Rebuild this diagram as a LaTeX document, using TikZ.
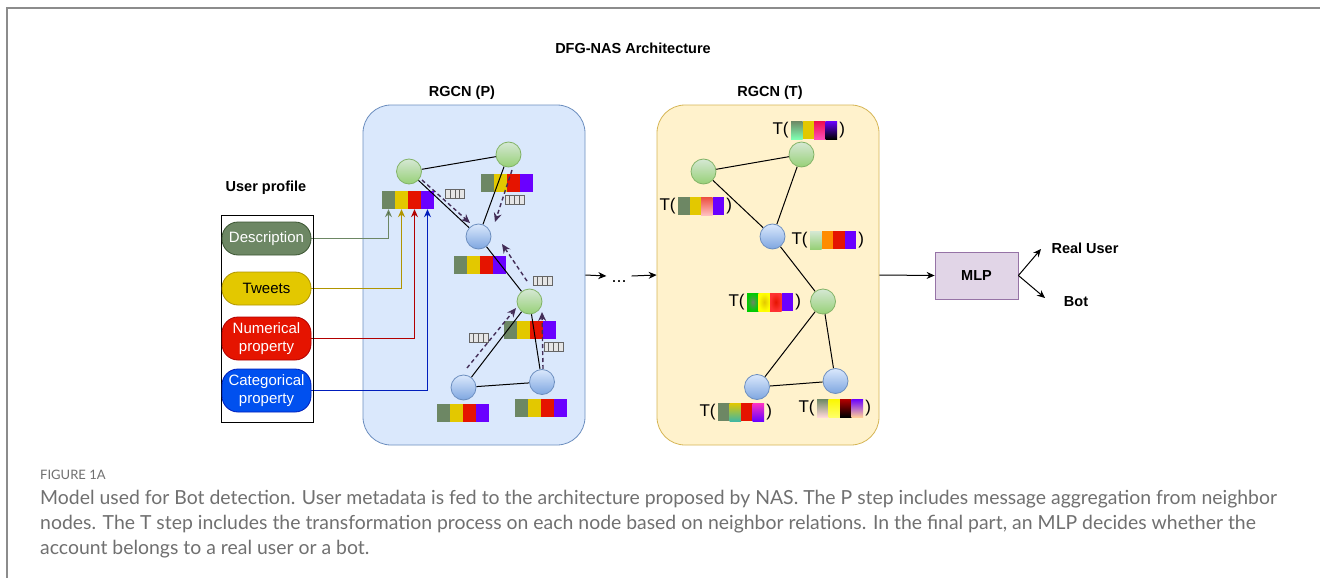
\documentclass[tikz,border=0pt]{standalone}
\usepackage{fontspec}
\setmainfont{Liberation Sans}
\newfontfamily\capfont{Lato}
\usetikzlibrary{arrows.meta}
\definecolor{cg}{HTML}{6D8764}
\definecolor{cgs}{HTML}{3A5431}
\definecolor{cy}{HTML}{E3C800}
\definecolor{cys}{HTML}{B09500}
\definecolor{cr}{HTML}{E51400}
\definecolor{crs}{HTML}{B20000}
\definecolor{cb}{HTML}{0050EF}
\definecolor{cbs}{HTML}{001DBC}
\definecolor{cp}{HTML}{6A00FF}
\definecolor{pfill}{HTML}{DAE8FC}
\definecolor{pdraw}{HTML}{6C8EBF}
\definecolor{tfill}{HTML}{FFF2CC}
\definecolor{tdraw}{HTML}{D6B656}
\definecolor{gtop}{HTML}{D5E8D4}
\definecolor{gbot}{HTML}{97D077}
\definecolor{gdraw}{HTML}{82B366}
\definecolor{btop}{HTML}{DAE8FC}
\definecolor{bbot}{HTML}{7EA6E0}
\definecolor{dpur}{HTML}{432D57}
\definecolor{mfill}{HTML}{E1D5E7}
\definecolor{mdraw}{HTML}{9673A6}
\definecolor{capgray}{HTML}{707070}
\definecolor{framegray}{HTML}{8C8C8C}
\pgfdeclarelayer{back}
\pgfdeclarelayer{bars}
\pgfdeclarelayer{edgel}
\pgfsetlayers{back,bars,edgel,main}
\tikzset{
  lbl/.style={font=\fontsize{14.5}{17.4}\selectfont\bfseries, inner sep=0},
  pill/.style={rounded corners=16pt, minimum width=89pt, inner sep=0, align=center,
    font=\fontsize{15}{18}\selectfont, line width=0.8pt},
  gnode/.style={circle, minimum size=25pt, inner sep=0, draw=gdraw, line width=0.8pt, top color=gtop, bottom color=gbot},
  bnode/.style={circle, minimum size=25pt, inner sep=0, draw=pdraw, line width=0.8pt, top color=btop, bottom color=bbot},
  cell/.style={minimum width=13pt, minimum height=18pt, inner sep=0},
  tcell/.style={minimum width=11.5pt, minimum height=18pt, inner sep=0},
  tlbl/.style={font=\fontsize{17}{20}\selectfont, inner xsep=2pt, inner ysep=0},
  edge/.style={draw=black, line width=1pt},
  dasharr/.style={draw=dpur, line width=1.4pt, dash pattern=on 4pt off 3pt, -{Stealth[length=9pt,width=8pt]}},
  arr/.style={draw=black, line width=1pt, -{Stealth[length=8pt,width=7pt]}},
  feed/.style={line width=1pt, -{Stealth[length=8pt,width=7pt]}},
  msgbox/.style={minimum width=19pt, minimum height=9pt, inner sep=0, draw=gray!80!black, fill=gray!20, line width=0.6pt,
    path picture={\foreach \i in {1,2,3} \draw[gray!75!black, line width=1pt] ([xshift=\i*4.75pt]path picture bounding box.south west) -- ([xshift=\i*4.75pt]path picture bounding box.north west);}},
  capline/.style={anchor=base west, inner sep=0, font=\capfont\fontsize{19.4}{23}\selectfont, text=capgray},
}
\newcommand\fbar[3]{%
  \node[cell, fill=cg] (#1a) at (#2+6.5,#3+9) {};
  \node[cell, fill=cy] (#1b) at (#2+19.5,#3+9) {};
  \node[cell, fill=cr] (#1c) at (#2+32.5,#3+9) {};
  \node[cell, fill=cp] (#1d) at (#2+45.5,#3+9) {};
}
\newcommand\tbar[7]{%
  \node[tcell,#4] (#1a) at (#2+5.75,#3+9) {};
  \node[tcell,#5] (#1b) at (#2+17.25,#3+9) {};
  \node[tcell,#6] (#1c) at (#2+28.75,#3+9) {};
  \node[tcell,#7] (#1d) at (#2+40.25,#3+9) {};
  \node[tlbl,anchor=east] (#1l) at (#1a.west) {T(};
  \node[tlbl,anchor=west] (#1r) at (#1d.east) {)};
}
\begin{document}
\begin{tikzpicture}[x=1pt,y=-1pt]
\useasboundingbox (0,0) rectangle (1320,578);
\begin{pgfonlayer}{back}
\fill[white] (0,0) rectangle (1320,578);
\draw[framegray, line width=2pt] (7,578) -- (7,8) -- (1320,8);
\end{pgfonlayer}

% titles
\node[lbl] (title) at (633,48) {DFG-NAS Architecture};
\node[lbl] (rp) at (462,93) {RGCN (P)};
\node[lbl] (rt) at (770,93) {RGCN (T)};

% panels
\begin{pgfonlayer}{back}
\node[draw=pdraw, fill=pfill, rounded corners=28pt, minimum width=222pt, minimum height=340pt, line width=0.8pt] (pbox) at (474,275) {};
\node[draw=tdraw, fill=tfill, rounded corners=28pt, minimum width=222pt, minimum height=340pt, line width=0.8pt] (tbox) at (768,275) {};
\end{pgfonlayer}

% user profile
\node[lbl] (up) at (266,188) {User profile};
\node[draw=black, line width=1pt, minimum width=92pt, minimum height=207pt, inner sep=0] (uprect) at (267,318.5) {};
\node[pill, fill=cg, draw=cgs, text=white, minimum height=33pt] (desc) at (266.5,238.5) {Description};
\node[pill, fill=cy, draw=cys, text=black, minimum height=33pt] (tweet) at (266.5,288.5) {Tweets};
\node[pill, fill=cr, draw=crs, text=white, minimum height=43pt] (num) at (266.5,338.5) {Numerical\\property};
\node[pill, fill=cb, draw=cbs, text=white, minimum height=43pt] (cat) at (266.5,390.5) {Categorical\\property};

% feature bars in P
\begin{pgfonlayer}{bars}
\fbar{pa}{382}{191}
\fbar{pb}{481}{174}
\fbar{pc}{454}{256}
\fbar{pd}{504}{321}
\fbar{pe}{437}{404}
\fbar{pf}{515}{399}
\node[msgbox] (m1) at (455,193.5) {};
\node[msgbox] (m2) at (514.5,199.5) {};
\node[msgbox] (m3) at (542.5,281) {};
\node[msgbox] (m4) at (478.5,338) {};
\node[msgbox] (m5) at (553.5,347) {};
\end{pgfonlayer}

% P graph nodes
\node[gnode] (A) at (409,171.5) {};
\node[gnode] (B) at (508.5,154.5) {};
\node[bnode] (C) at (478.5,236.5) {};
\node[gnode] (D) at (529.5,301.5) {};
\node[bnode] (E) at (463.5,387.5) {};
\node[bnode] (F) at (542,382) {};

% T graph nodes
\node[gnode] (G1) at (703.5,171.5) {};
\node[gnode] (G2) at (801.5,154.5) {};
\node[bnode] (B1) at (772.5,236.5) {};
\node[gnode] (G3) at (823,301.5) {};
\node[bnode] (B2) at (757,387) {};
\node[bnode] (B3) at (835.5,381) {};

% dashed arrow end points
\coordinate (d1s) at (422,180); \coordinate (d1e) at (470,223);
\coordinate (d2s) at (512,170); \coordinate (d2e) at (495,222);
\coordinate (d3s) at (527,281); \coordinate (d3e) at (502,244);
\coordinate (d4s) at (467,368); \coordinate (d4e) at (516,308);
\coordinate (d5s) at (543,369); \coordinate (d5e) at (542,312);

\begin{pgfonlayer}{edgel}
\draw[edge] (A) -- (B);
\draw[edge] (A) -- (C);
\draw[edge] (B) -- (C);
\draw[edge] (C) -- (D);
\draw[edge] (D) -- (E);
\draw[edge] (D) -- (F);
\draw[edge] (E) -- (F);
\draw[dasharr] (d1s) -- (d1e);
\draw[dasharr] (d2s) -- (d2e);
\draw[dasharr] (d3s) -- (d3e);
\draw[dasharr] (d4s) -- (d4e);
\draw[dasharr] (d5s) -- (d5e);
\draw[edge] (G1) -- (G2);
\draw[edge] (G1) -- (B1);
\draw[edge] (G2) -- (B1);
\draw[edge] (B1) -- (G3);
\draw[edge] (G3) -- (B2);
\draw[edge] (G3) -- (B3);
\draw[edge] (B2) -- (B3);
% feeds
\draw[feed, draw=cg, -{Stealth[length=8pt,width=7pt,fill=cgs]}] (desc.east) -| (paa.south);
\draw[feed, draw=cys] (tweet.east) -| (pab.south);
\draw[feed, draw=crs] (num.east) -| (pac.south);
\draw[feed, draw=cbs] (cat.east) -| (pad.south);
\end{pgfonlayer}

% T labels
\tbar{tg2}{791}{121}{top color=cg, bottom color=green!60!cyan!50}{fill=cy}{top color=cr!70!magenta, bottom color=magenta!60!red!70!white}{top color=cp, bottom color=black}
\tbar{tg1}{678}{197}{fill=cg}{fill=cy}{top color=cr!75!white, bottom color=red!25!white}{fill=cp}
\tbar{tb1}{810}{231}{top color=gtop, bottom color=gbot}{fill=orange!90!yellow}{fill=cr}{fill=cp}
\tbar{tg3}{747}{293}{inner color=cg, outer color=green!80!black}{inner color=cy, outer color=yellow}{inner color=cr, outer color=red!80!white}{fill=cp}
\tbar{tb2}{718}{403}{fill=cg}{top color=cy, bottom color=cg!60!cyan}{fill=cr}{top color=magenta!70!red!80!white, bottom color=cp}
\tbar{tb3}{817}{399}{top color=cg, bottom color=red!15!white}{top color=yellow!85!cy, bottom color=yellow!60!white}{top color=red!70!black, bottom color=black}{top color=cp, bottom color=orange!40!white}

% flow
\node[font=\fontsize{18}{20}\selectfont, inner xsep=5pt, inner ysep=0] (dots) at (619,276) {\vphantom{T}...};
\draw[arr] (pbox.east) -- (dots.west);
\draw[arr] (dots.east) -- (tbox.west);
\node[draw=mdraw, fill=mfill, line width=0.8pt, minimum width=83pt, minimum height=47pt, inner sep=0, lbl] (mlp) at (976.5,275.5) {MLP};
\draw[arr] (tbox.east) -- (mlp.west);
\coordinate (ru) at (1041,249);
\coordinate (bo) at (1045,298);
\draw[arr] (mlp.east) -- (ru);
\draw[arr] (mlp.east) -- (bo);
\node[lbl] (real) at (1085,248) {Real User};
\node[lbl] (bot) at (1076,302) {Bot};

% caption
\node[anchor=base west, inner sep=0, font=\capfont\fontsize{13}{15}\selectfont, text=capgray] (fig) at (40,479) {FIGURE 1A};
\node[capline] (cap1) at (40,504) {Model used for Bot detection. User metadata is fed to the architecture proposed by NAS. The P step includes message aggregation from neighbor};
\node[capline] (cap2) at (40,529) {nodes. The T step includes the transformation process on each node based on neighbor relations. In the final part, an MLP decides whether the};
\node[capline] (cap3) at (40,554) {account belongs to a real user or a bot.};
\end{tikzpicture}
\end{document}
